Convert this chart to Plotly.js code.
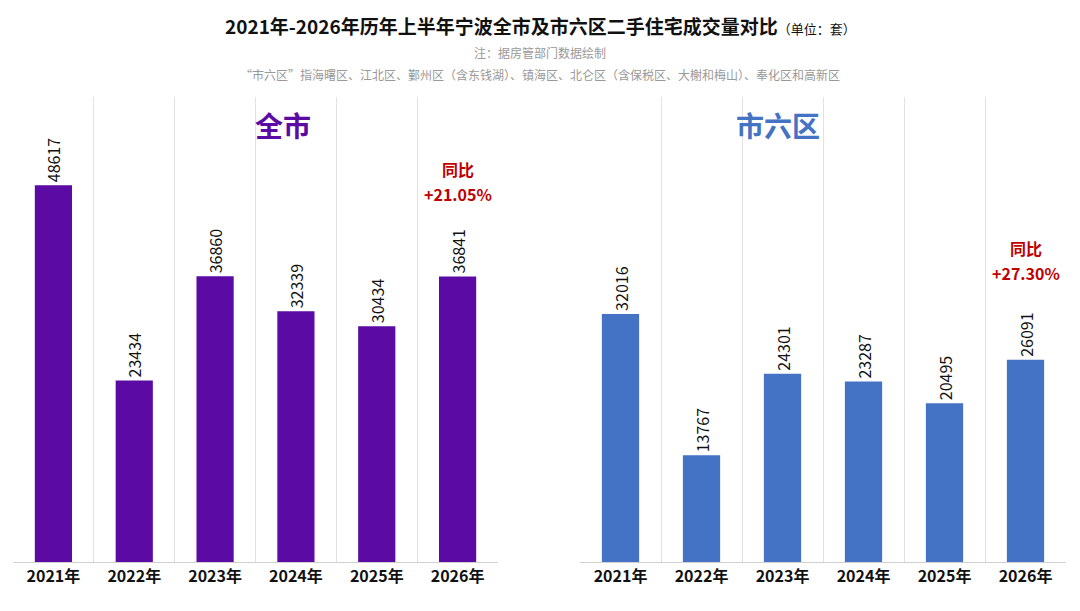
<!DOCTYPE html>
<html><head><meta charset="utf-8">
<script src="https://cdn.plot.ly/plotly-3.0.1.min.js"></script>
<style>html,body{margin:0;padding:0;background:#fff}#chart{width:1080px;height:611px}</style>
</head><body><div id="chart"></div>
<script>
const years = ['2021年', '2022年', '2023年', '2024年', '2025年', '2026年'];
const cityValues = [48617, 23434, 36860, 32339, 30434, 36841];
const sixValues = [32016, 13767, 24301, 23287, 20495, 26091];
const yoyLabel = '同比';
const cityYoY = '+21.05%';
const sixYoY = '+27.30%';

const FONT = 'Noto Sans CJK SC, sans-serif';
const purple = '#5B0AA3';
const blue = '#4472C4';
const red = '#C00000';

function bar(vals, color, xa) {
  return {
    type: 'bar', x: years, y: vals, xaxis: xa, yaxis: 'y',
    marker: { color: color }, width: 0.46,
    text: vals.map(String), textposition: 'outside', textangle: -90,
    constraintext: 'none',
    textfont: { family: FONT, size: 16, color: '#111' },
    cliponaxis: false, hoverinfo: 'none'
  };
}

const axisX = d => ({
  domain: d, type: 'category', tickson: 'boundaries',
  showgrid: true, gridcolor: '#e2e2e2', gridwidth: 1,
  showline: true, linecolor: '#d0d0d0', ticks: '',
  tickfont: { family: FONT, size: 16, color: '#111', weight: 'bold' }
});

function note(text, yshift, size, color, x) {
  return { xref: 'paper', yref: 'paper', x: x === undefined ? 0.5 : x, y: 1, yshift: yshift,
    yanchor: 'middle', showarrow: false, text: text, font: { size: size, color: color } };
}
function yoy(xa, vals, text, shift, size) {
  return { xref: xa, yref: 'y', x: years[5], y: vals[5], yshift: shift, yanchor: 'middle',
    showarrow: false, text: '<b>' + text + '</b>', font: { size: size, color: red } };
}

const layout = {
  width: 1080, height: 611, showlegend: false,
  paper_bgcolor: '#fff', plot_bgcolor: '#fff',
  margin: { l: 0, r: 0, t: 97, b: 49 },
  font: { family: FONT },
  xaxis: Object.assign(axisX([13 / 1080, 498 / 1080]), { anchor: 'y' }),
  xaxis2: Object.assign(axisX([580 / 1080, 1066 / 1080]), { anchor: 'y' }),
  yaxis: { range: [0, 60000], visible: false, showgrid: false, fixedrange: true },
  annotations: [
    note('<b>2021年-2026年历年上半年宁波全市及市六区二手住宅成交量对比</b><span style="font-size:13px">（单位：套）</span>', 72, 19, '#111'),
    note('注：据房管部门数据绘制', 45, 12, '#999'),
    note('“市六区”指海曙区、江北区、鄞州区（含东钱湖）、镇海区、北仑区（含保税区、大榭和梅山）、奉化区和高新区', 23, 12, '#999'),
    note('<b>全市</b>', -28, 28, purple, 253 / 1080),
    note('<b>市六区</b>', -28, 28, blue, 822 / 1080),
    yoy('x', cityValues, yoyLabel, 107, 16),
    yoy('x', cityValues, cityYoY, 82, 16),
    yoy('x2', sixValues, yoyLabel, 112, 16),
    yoy('x2', sixValues, sixYoY, 87, 16)
  ]
};

Plotly.newPlot('chart', [bar(cityValues, purple, 'x'), bar(sixValues, blue, 'x2')], layout, { displayModeBar: false, staticPlot: true });
</script></body></html>
